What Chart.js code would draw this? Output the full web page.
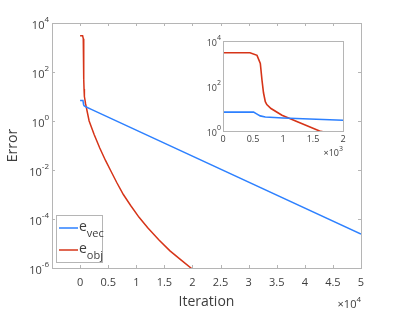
<!DOCTYPE html>
<html>
<head>
<meta charset="utf-8">
<script src="https://cdn.jsdelivr.net/npm/chart.js@4"></script>
<style>
  body { margin: 0; background: #fff; }
  #wrap { position: relative; width: 399px; height: 311px; }
  #main { position: absolute; left: 0; top: 0; }
  #inset { position: absolute; left: 195px; top: 30px; }
</style>
</head>
<body>
<div id="wrap">
  <canvas id="main" width="399" height="311"></canvas>
  <canvas id="inset" width="165" height="135"></canvas>
</div>
<script>
// datos
const iterVec = [0, 510, 560, 620, 705, 1000, 2000, 50000];
const errVec = [6.9, 6.9, 5.8, 4.7, 4.2, 3.8, 3.0, 0.0000245];

const iterObj = [0, 450, 567, 622, 650, 675, 705, 730, 800, 983, 1250, 1610, 2500, 3500, 4500, 5500, 6500, 7700, 9000, 10500, 12000, 14000, 16000, 18000, 20000];
const errObj = [3000, 3000, 2300, 1000, 180, 50, 20, 15, 10, 5, 2.5, 1, 0.282, 0.0794, 0.0251, 0.00891, 0.00316, 0.001, 0.000355, 0.000117, 0.0000447, 0.0000141, 0.000005, 0.00000209, 0.00000089];

const xTicks = [0, 5000, 10000, 15000, 20000, 25000, 30000, 35000, 40000, 45000, 50000];
const xTickLabels = ['0', '0.5', '1', '1.5', '2', '2.5', '3', '3.5', '4', '4.5', '5'];
const yTicks = [1e4, 1e2, 1, 1e-2, 1e-4, 1e-6];
const yExp = ['4', '2', '0', '-2', '-4', '-6'];

const insetXTicks = [0, 500, 1000, 1500, 2000];
const insetXLabels = ['0', '0.5', '1', '1.5', '2'];
const insetYTicks = [1e4, 1e2, 1];
const insetYExp = ['4', '2', '0'];

const colorVec = 'rgb(45,128,255)';
const colorObj = 'rgb(214,52,24)';
const axisGray = '#b5b5b5';
const textGray = '#3d3d3d';
const fontFam = '"Open Sans", "DejaVu Sans", sans-serif';

function puntos(xs, ys) {
    return xs.map((x, i) => ({ x: x, y: ys[i] }));
}

// etiqueta tipo 10^n dibujada a mano
function drawPow(ctx, xRight, yMid, exp, size) {
    ctx.font = size + 'px ' + fontFam;
    const expSize = Math.round(size * 0.75);
    const baseW = ctx.measureText('10').width;
    ctx.font = expSize + 'px ' + fontFam;
    const expW = ctx.measureText(exp).width;
    const x0 = xRight - baseW - expW;
    ctx.fillStyle = textGray;
    ctx.textBaseline = 'alphabetic';
    ctx.textAlign = 'left';
    ctx.font = size + 'px ' + fontFam;
    ctx.fillText('10', x0, yMid + size * 0.55);
    ctx.font = expSize + 'px ' + fontFam;
    ctx.fillText(exp, x0 + baseW, yMid - size * 0.1);
}

// caja con marcas hacia dentro y etiquetas de potencias
function boxPlugin(opts) {
    return {
        id: 'caja' + opts.name,
        afterDatasetsDraw(chart) {
            const ctx = chart.ctx;
            const a = chart.chartArea;
            const xs = chart.scales.x;
            const ys = chart.scales.y;
            ctx.save();
            ctx.strokeStyle = axisGray;
            ctx.lineWidth = 1;
            ctx.strokeRect(Math.round(a.left) + 0.5, Math.round(a.top) + 0.5,
                Math.round(a.right - a.left), Math.round(a.bottom - a.top));
            if (opts.tickLen > 0) {
                ctx.beginPath();
                opts.xTicks.forEach(v => {
                    const px = Math.round(xs.getPixelForValue(v)) + 0.5;
                    ctx.moveTo(px, a.bottom); ctx.lineTo(px, a.bottom - opts.tickLen);
                    ctx.moveTo(px, a.top); ctx.lineTo(px, a.top + opts.tickLen);
                });
                opts.yTicks.forEach(v => {
                    const py = Math.round(ys.getPixelForValue(v)) + 0.5;
                    ctx.moveTo(a.left, py); ctx.lineTo(a.left + opts.tickLen, py);
                    ctx.moveTo(a.right, py); ctx.lineTo(a.right - opts.tickLen, py);
                });
                ctx.stroke();
            }
            opts.yTicks.forEach((v, i) => {
                drawPow(ctx, a.left - opts.labelGap, ys.getPixelForValue(v), opts.yExp[i], opts.fontSize);
            });
            // factor x10^n
            ctx.fillStyle = textGray;
            ctx.textAlign = 'left';
            ctx.textBaseline = 'alphabetic';
            ctx.font = opts.fontSize + 'px ' + fontFam;
            const tw = ctx.measureText('\u00d710').width;
            ctx.font = Math.round(opts.fontSize * 0.75) + 'px ' + fontFam;
            const ew = ctx.measureText(opts.factorExp).width;
            const fx = a.right - tw - ew + opts.factorDx;
            const fy = a.bottom + opts.factorDy;
            ctx.font = opts.fontSize + 'px ' + fontFam;
            ctx.fillText('\u00d710', fx, fy);
            ctx.font = Math.round(opts.fontSize * 0.75) + 'px ' + fontFam;
            ctx.fillText(opts.factorExp, fx + tw, fy - opts.fontSize * 0.55);
            ctx.restore();
        }
    };
}

// leyenda con subindices
const leyenda = {
    id: 'leyenda',
    afterDraw(chart) {
        const ctx = chart.ctx;
        const bx = 56, by = 215, bw = 46, bh = 47;
        ctx.save();
        ctx.fillStyle = '#fff';
        ctx.fillRect(bx, by, bw, bh);
        ctx.strokeStyle = axisGray;
        ctx.lineWidth = 1;
        ctx.strokeRect(bx + 0.5, by + 0.5, bw, bh);
        const items = [
            { color: colorVec, sub: 'vec', y: by + 13 },
            { color: colorObj, sub: 'obj', y: by + 35 }
        ];
        items.forEach(it => {
            ctx.strokeStyle = it.color;
            ctx.lineWidth = 1.5;
            ctx.beginPath();
            ctx.moveTo(bx + 3, it.y); ctx.lineTo(bx + 22, it.y);
            ctx.stroke();
            ctx.fillStyle = textGray;
            ctx.textBaseline = 'alphabetic';
            ctx.textAlign = 'left';
            ctx.font = '14px ' + fontFam;
            ctx.fillText('e', bx + 23, it.y + 3);
            const ew = ctx.measureText('e').width;
            ctx.font = '11px ' + fontFam;
            ctx.fillText(it.sub, bx + 23 + ew, it.y + 9);
        });
        ctx.restore();
    }
};

function datasets(width) {
    return [
        { label: 'e_vec', data: puntos(iterVec, errVec), borderColor: colorVec, borderWidth: width, pointRadius: 0, tension: 0 },
        { label: 'e_obj', data: puntos(iterObj, errObj), borderColor: colorObj, borderWidth: width, pointRadius: 0, tension: 0 }
    ];
}

// grafico principal
new Chart(document.getElementById('main'), {
    type: 'line',
    data: { datasets: datasets(1.5) },
    options: {
        responsive: false,
        animation: false,
        devicePixelRatio: 1,
        layout: { padding: { top: 23, right: 38, left: 0, bottom: 0 } },
        plugins: { legend: { display: false }, tooltip: { enabled: false } },
        scales: {
            x: {
                type: 'linear', min: -5000, max: 50000,
                afterBuildTicks: s => { s.ticks = xTicks.map(v => ({ value: v })); },
                afterFit: s => { s.height = 43; },
                grid: { display: false, drawTicks: false },
                border: { display: false },
                ticks: {
                    padding: 8, color: textGray, maxRotation: 0,
                    font: { family: fontFam, size: 11 },
                    callback: v => xTickLabels[xTicks.indexOf(v)]
                },
                title: {
                    display: true, text: 'Iteration', color: textGray,
                    font: { family: fontFam, size: 14 }, padding: { top: 0, bottom: 1 }
                }
            },
            y: {
                type: 'logarithmic', min: 1e-6, max: 1e4,
                afterBuildTicks: s => { s.ticks = yTicks.map(v => ({ value: v })); },
                afterFit: s => { s.width = 52; },
                grid: { display: false, drawTicks: false },
                border: { display: false },
                ticks: { display: false },
                title: {
                    display: true, text: 'Error', color: textGray,
                    font: { family: fontFam, size: 14 }, padding: { top: 5, bottom: 0 }
                }
            }
        }
    },
    plugins: [boxPlugin({
        name: 'main', xTicks: xTicks, yTicks: yTicks, yExp: yExp, tickLen: 3,
        fontSize: 11, labelGap: 3, factorExp: '4', factorDx: 0, factorDy: 40
    }), leyenda]
});

// grafico pequeño
new Chart(document.getElementById('inset'), {
    type: 'line',
    data: { datasets: datasets(1.6) },
    options: {
        responsive: false,
        animation: false,
        devicePixelRatio: 1,
        layout: { padding: { top: 11, right: 17, left: 0, bottom: 0 } },
        plugins: { legend: { display: false }, tooltip: { enabled: false } },
        scales: {
            x: {
                type: 'linear', min: 0, max: 2000,
                afterBuildTicks: s => { s.ticks = insetXTicks.map(v => ({ value: v })); },
                afterFit: s => { s.height = 34; },
                grid: { display: false, drawTicks: false },
                border: { display: false },
                ticks: {
                    padding: 3, color: textGray, maxRotation: 0,
                    font: { family: fontFam, size: 9 },
                    callback: v => insetXLabels[insetXTicks.indexOf(v)]
                }
            },
            y: {
                type: 'logarithmic', min: 1, max: 1e4,
                afterBuildTicks: s => { s.ticks = insetYTicks.map(v => ({ value: v })); },
                afterFit: s => { s.width = 28; },
                grid: { display: false, drawTicks: false },
                border: { display: false },
                ticks: { display: false }
            }
        }
    },
    plugins: [{
        id: 'fondo',
        beforeDatasetsDraw(chart) {
            const a = chart.chartArea;
            chart.ctx.save();
            chart.ctx.fillStyle = '#fff';
            chart.ctx.fillRect(a.left, a.top, a.right - a.left, a.bottom - a.top);
            chart.ctx.restore();
        }
    }, boxPlugin({
        name: 'inset', xTicks: insetXTicks, yTicks: insetYTicks, yExp: insetYExp, tickLen: 0,
        fontSize: 9, labelGap: 2, factorExp: '3', factorDx: 0, factorDy: 25
    })]
});
</script>
</body>
</html>
